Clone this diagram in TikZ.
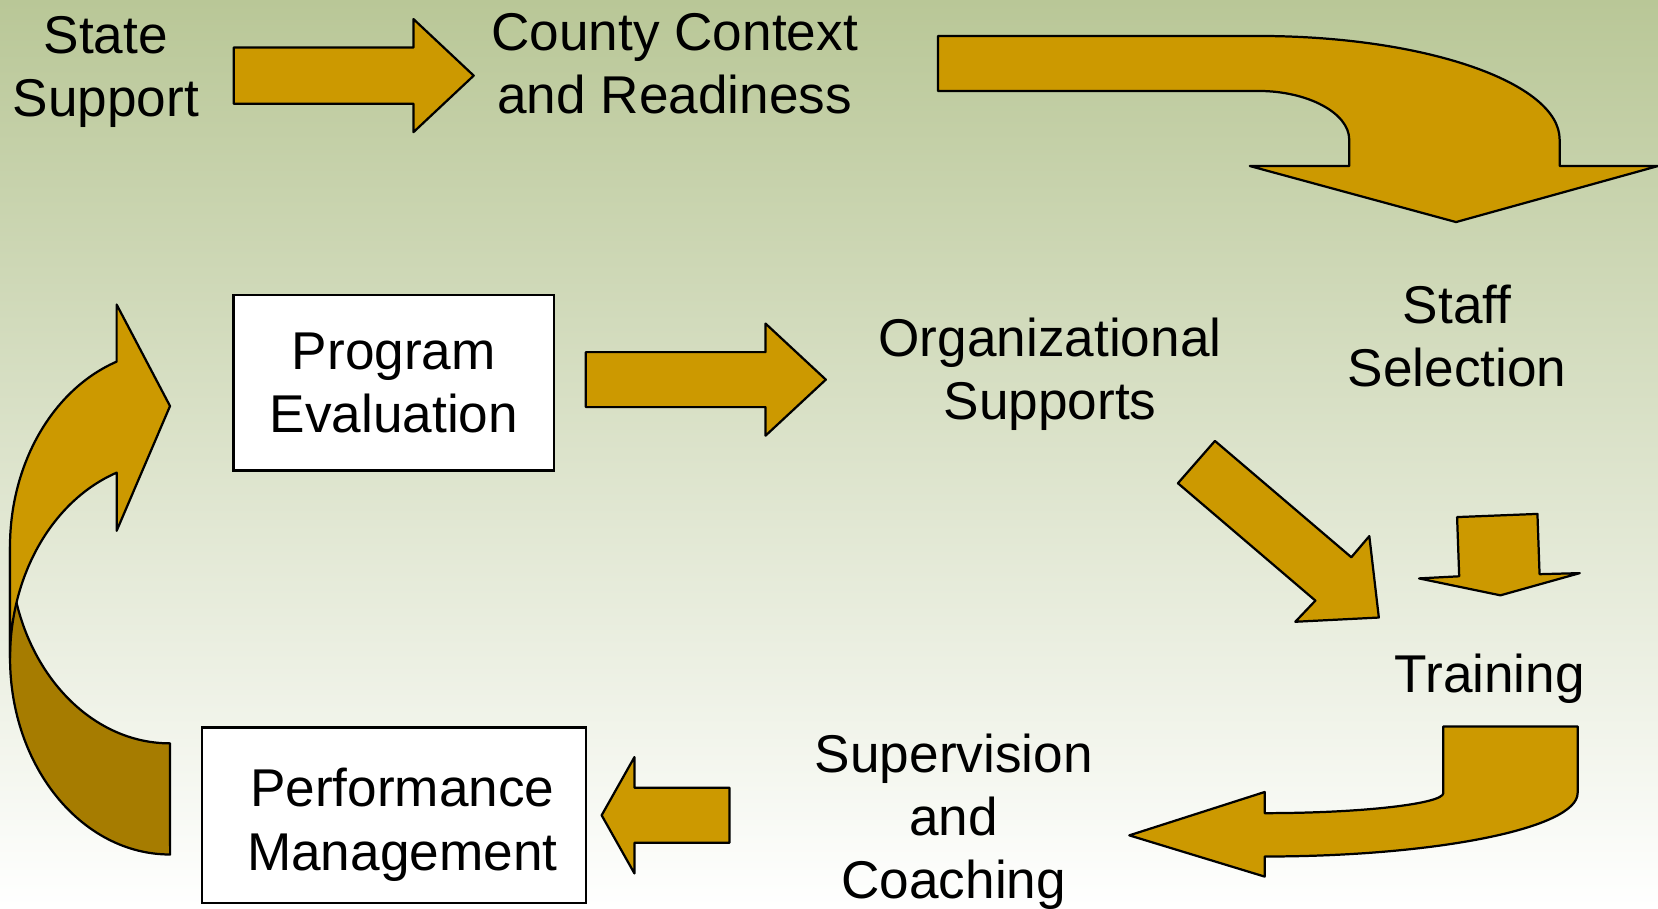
\documentclass[tikz,border=0pt]{standalone}
\usepackage{fontspec}
\setmainfont{Liberation Sans}
\definecolor{bgtop}{RGB}{185,199,151}
\definecolor{gold}{RGB}{204,153,0}
\definecolor{darkgold}{RGB}{166,124,0}

\begin{document}
\begin{tikzpicture}[x=0.01cm,y=-0.01cm,
        txt/.style={align=center,inner sep=0pt,font=\fontsize{14.3}{17}\selectfont},
        box/.style={txt,draw,fill=white,line width=0.6pt,minimum width=3.03cm,minimum height=1.66cm},
        arr/.style={fill=gold,draw=black,line width=0.6pt,line join=round},
        rad/.style={x radius=1.513cm,y radius=1.858cm}]
        \shade[top color=bgtop,bottom color=white](0,0)rectangle(1568,859);
        \useasboundingbox (0,0) rectangle (1568,859);
        % texts and boxes
        \node[txt] (state) at (100,68){State\\Support};
        \node[txt] (county) at (638,60){County Context\\and Readiness};
        \node[txt] (staff) at (1378,318){Staff\\Selection};
        \node[txt] (org) at (993,354){Organizational\\Supports};
        \node[box] (eval) at (372.5,362){Program\\Evaluation};
        \node[txt] (train) at (1409,642){Training};
        \node[txt] (coach) at (902,777){Supervision\\and\\Coaching};
        \node[box,minimum width=3.63cm] (perf) at (372.5,771)
            {\rule{0pt}{15.5pt}\hspace*{4.5pt}Performance\\\hspace*{4.5pt}Management};
        % block arrows
        \draw[arr](221,45)--(391,45)--(391,18)--(448,71.5)--(391,125)--(391,98)--(221,98)--cycle;
        \draw[arr](887,34)--(1190,34) .. controls (1347,34) and (1475,78) .. (1475,132)
            --(1475,157)--(1568,157)--(1377,210)--(1182,157)--(1276,157)--(1276,132)
            .. controls (1276,107) and (1237,86) .. (1190,86)--(887,86)--cycle;
        \draw[arr](554,333)--(724,333)--(724,306)--(781,359)--(724,412)--(724,385)--(554,385)--cycle;
        \draw[arr](1149,417)--(1278,527)--(1295,507)--(1304,584)--(1225,588)--(1244,568)--(1114,457)--cycle;
        \draw[arr](1378,489)--(1454,486)--(1456,543)--(1494,542)--(1419,563)--(1342,547)--(1380,545)--cycle;
        \draw[arr](1365,687)--(1492,687)--(1492,750) .. controls (1492,783) and (1359,810) .. (1196,810)
            --(1196,829)--(1068,790)--(1196,749)--(1196,769)
            .. controls (1289,769) and (1365,760) .. (1365,750)--cycle;
        \draw[arr](690,745)--(600,745)--(600,716)--(569,771)--(600,826)--(600,797)--(690,797)--cycle;
        % curved arrow on the left
        \draw[arr,fill=darkgold](9.5,622.2) arc[rad,start angle=180,end angle=270]
            --(160.8,703) arc[rad,start angle=270,end angle=180]--cycle;
        \draw[arr](110.3,342) arc[rad,start angle=109.5,end angle=180]
            --(9.5,622.2) arc[rad,start angle=180,end angle=109.5]
            --(110.3,502)--(160.8,384)--(110.3,288)--cycle;
    \end{tikzpicture}
\end{document}
